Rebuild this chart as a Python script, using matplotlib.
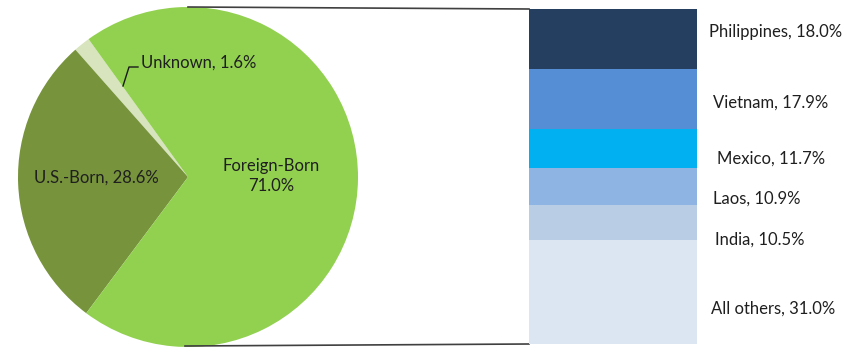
import matplotlib
matplotlib.use("Agg")
import matplotlib.pyplot as plt
import numpy as np

plt.rcParams['font.family'] = ['Lato', 'DejaVu Sans']

# Pie data (counterclockwise order from start angle)
pie_labels = ["Unknown", "U.S.-Born", "Foreign-Born"]
pie_values = [1.6, 28.6, 71.0]
pie_colors = ["#D7E4BD", "#77933C", "#92D050"]

# Bar breakdown of Foreign-Born
bar_labels = ["Philippines", "Vietnam", "Mexico", "Laos", "India", "All others"]
bar_values = [18.0, 17.9, 11.7, 10.9, 10.5, 31.0]
bar_colors = ["#243F60", "#558ED5", "#00B0F0", "#8EB4E3", "#B9CDE5", "#DCE6F2"]

W, H = 859, 347
fig = plt.figure(figsize=(W / 100, H / 100), dpi=100)
ax = fig.add_axes([0, 0, 1, 1])

cx, cy, r = 188, H - 177, 170
ax.pie(pie_values, colors=pie_colors, startangle=125.8,
       counterclock=True, center=(cx, cy), radius=r,
       wedgeprops=dict(linewidth=0), frame=True)
ax.set_xlim(0, W)
ax.set_ylim(0, H)
ax.set_aspect('equal')
ax.axis('off')

txt = dict(color="#1f1f1f", fontsize=12)
ax.text(96, H - 178, f"{pie_labels[1]}, {pie_values[1]:.1f}%", ha='center', va='center', **txt)
ax.text(271, H - 176, f"{pie_labels[2]}\n{pie_values[2]:.1f}%", ha='center', va='center',
        linespacing=1.35, **txt)
ax.text(141, H - 63, f"{pie_labels[0]}, {pie_values[0]:.1f}%", ha='left', va='center', **txt)
ax.plot([123, 129, 138], [H - 86, H - 67, H - 67], color="#1a1a1a", lw=1)

# connector lines
ax.plot([188, 529], [H - 7, H - 9], color="#404040", lw=1.2)
ax.plot([185, 529], [H - 346, H - 344], color="#404040", lw=1.2)

# stacked bar
x0, x1, top, bot = 529, 697, 9, 344
ax2 = fig.add_axes([x0 / W, 1 - bot / H, (x1 - x0) / W, (bot - top) / H])
ax2.set_xlim(-0.5, 0.5)
ax2.set_ylim(sum(bar_values), 0)
ax2.axis('off')
bottoms = np.concatenate([[0], np.cumsum(bar_values)[:-1]])
ax2.bar([0] * len(bar_values), bar_values, bottom=bottoms, width=1.0,
        color=bar_colors, linewidth=0)

# label placement (pixel x of left edge, pixel y offset from segment centre)
label_x = [709, 713, 717, 713, 715, 711]
label_dy = [-7, 3, 10, 12, 17, 17]
px_per_unit = (bot - top) / sum(bar_values)
for lbl, v, b, lx, dy in zip(bar_labels, bar_values, bottoms, label_x, label_dy):
    ax2.text(0.5 + (lx - x1) / (x1 - x0), b + v / 2 + dy / px_per_unit,
             f"{lbl}, {v:.1f}%", ha='left', va='center', clip_on=False, **txt)

fig.savefig("out.png", dpi=100)
